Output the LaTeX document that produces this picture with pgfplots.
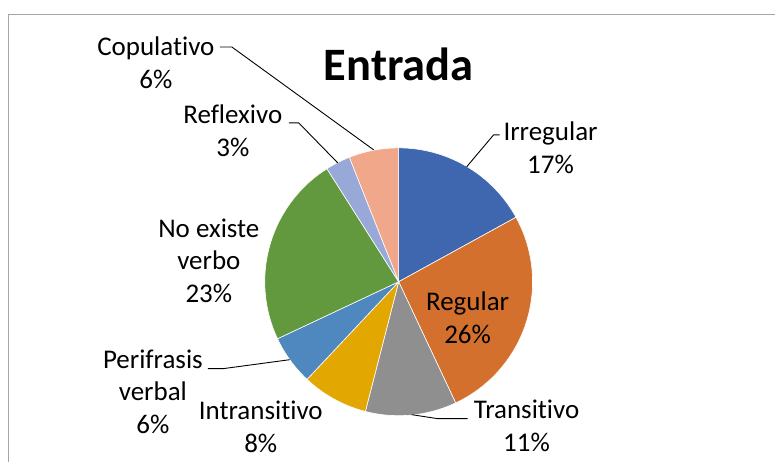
\documentclass[border=0pt]{standalone}
\usepackage{pgfplots}
\pgfplotsset{compat=1.18}
\usepackage{fontspec}
\setmainfont{Carlito}[Ligatures=NoCommon]
\definecolor{cIrr}{HTML}{3F67AF}
\definecolor{cReg}{HTML}{D4702D}
\definecolor{cTra}{HTML}{8F8F8F}
\definecolor{cInt}{HTML}{E2A700}
\definecolor{cPer}{HTML}{4F87BF}
\definecolor{cNoe}{HTML}{62993E}
\definecolor{cRef}{HTML}{98A8D7}
\definecolor{cCop}{HTML}{F1A78A}
\definecolor{frame}{HTML}{A6A6A6}
\tikzset{lbl/.style={align=center, font=\fontsize{27}{32.5}\selectfont, text=black, inner sep=0pt}}
% shares (%): Irregular 17, Regular 26, Transitivo 11, Intransitivo 8,
% Perifrasis verbal 6, No existe verbo 23, Reflexivo 3, Copulativo 6
% start at 90 deg, clockwise; 1% = 3.6 deg
\newcommand{\slice}[3]{%
  \addplot[fill=#3, draw=white, line width=0.6pt, domain=#1:#2, samples=80]
    ({399+134*cos(x)},{282-134*sin(x)}) -- (axis cs:399,282) -- cycle;}
\begin{document}
\begin{tikzpicture}
\begin{axis}[
  width=776pt, height=462pt, scale only axis,
  xmin=0, xmax=776, ymin=0, ymax=462, y dir=reverse,
  hide axis, clip=false,
]
\path (axis cs:0,0) rectangle (axis cs:776,462);
\draw[frame, line width=1.3pt] (axis cs:8.5,462) -- (axis cs:8.5,14.5) -- (axis cs:776,14.5);
\slice{28.8}{90}{cIrr}
\slice{-64.8}{28.8}{cReg}
\slice{-104.4}{-64.8}{cTra}
\slice{-133.2}{-104.4}{cInt}
\slice{-154.8}{-133.2}{cPer}
\slice{-237.6}{-154.8}{cNoe}
\slice{-248.4}{-237.6}{cRef}
\slice{-270}{-248.4}{cCop}
% leader lines
\addplot[black, line width=0.9pt] coordinates {(220,47) (232,47) (374,150)};
\addplot[black, line width=0.9pt] coordinates {(289,123) (299,123) (338,163)};
\addplot[black, line width=0.9pt] coordinates {(500,135) (494,135) (467,167)};
\addplot[black, line width=0.9pt] coordinates {(468,419) (438,419) (412,415)};
\addplot[black, line width=0.9pt] coordinates {(208,369) (223,369) (290,360)};
% title
\node[font=\fontsize{46.5}{54}\selectfont\bfseries, inner sep=0pt] at (axis cs:399,64) {Entrada};
% labels
\node[lbl] at (axis cs:156,63) {Copulativo\\6\%};
\node[lbl] at (axis cs:233,131) {Reflexivo\\3\%};
\node[lbl] at (axis cs:551,148) {Irregular\\17\%};
\node[lbl] at (axis cs:468,318) {Regular\\26\%};
\node[lbl] at (axis cs:527,426) {Transitivo\\11\%};
\node[lbl] at (axis cs:261,427) {Intransitivo\\8\%};
\node[lbl] at (axis cs:153,392) {Perifrasis\\verbal\\6\%};
\node[lbl] at (axis cs:209,261) {No existe\\verbo\\23\%};
\end{axis}
\end{tikzpicture}
\end{document}
